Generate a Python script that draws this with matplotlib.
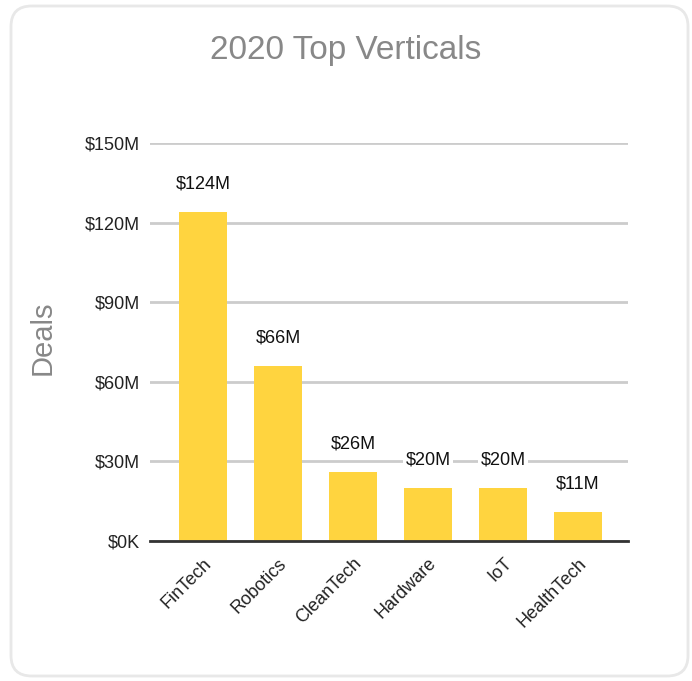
import matplotlib.pyplot as plt
from matplotlib.patches import FancyBboxPatch
import numpy as np

plt.rcParams['font.family'] = ['Liberation Sans', 'DejaVu Sans']

# chart data
categories = ["FinTech", "Robotics", "CleanTech", "Hardware", "IoT", "HealthTech"]
deals = [124, 66, 26, 20, 20, 11]
labels = ["$124M", "$66M", "$26M", "$20M", "$20M", "$11M"]
yticks = [0, 30, 60, 90, 120, 150]
ytick_labels = ["$0K", "$30M", "$60M", "$90M", "$120M", "$150M"]

fig = plt.figure(figsize=(6.92, 6.81), dpi=100)

# rounded card border, kept behind the axes
card = FancyBboxPatch((11 / 692, 5 / 681), 677 / 692, 670 / 681,
                      boxstyle="round,pad=0,rounding_size=0.03",
                      transform=fig.transFigure, facecolor="white",
                      edgecolor="#e8e8e8", linewidth=2, zorder=-10)
fig.patches.append(card)

ax = fig.add_axes([150 / 692, 1 - 541 / 681, 478 / 692, 398 / 681])
ax.set_facecolor("none")
ax.set_zorder(5)

x = np.arange(len(categories))
ax.bar(x, deals, width=0.64, color="#ffd43f", zorder=3)

ax.set_ylim(0, 150)
ax.set_xlim(-53 / 75, 5 + 50 / 75)
ax.set_yticks(yticks)
ax.set_yticklabels(ytick_labels, fontsize=13, color="#222222")
ax.set_xticks(x)
ax.set_xticklabels(categories, rotation=45, ha="right", rotation_mode="anchor",
                   fontsize=13, color="#222222")
ax.tick_params(length=0, pad=7)
ax.tick_params(axis="x", pad=10)

ax.grid(axis="y", color="#cccccc", linewidth=2, zorder=0)
for s in ["top", "right", "left"]:
    ax.spines[s].set_visible(False)
ax.spines["bottom"].set_color("#333333")
ax.spines["bottom"].set_linewidth(2)
ax.spines["bottom"].set_zorder(4)

for xi, v, lab in zip(x, deals, labels):
    ax.annotate(lab, (xi, v), xytext=(0, 20), textcoords="offset points",
                ha="center", va="center", fontsize=13, color="#111111",
                bbox=dict(facecolor="white", edgecolor="none", pad=1.5), zorder=5)

fig.text(0.5, 1 - 50 / 681, "2020 Top Verticals", ha="center", va="center",
         fontsize=24, color="#888888")
fig.text(43 / 692, 1 - 338 / 681, "Deals", ha="center", va="center",
         rotation=90, fontsize=21, color="#888888")

fig.savefig("out.png", dpi=100)
